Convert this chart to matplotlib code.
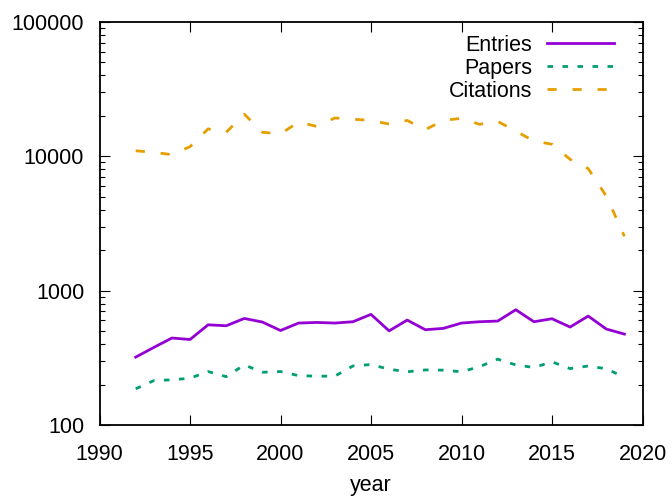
import numpy as np
import matplotlib
matplotlib.use('Agg')
import matplotlib.pyplot as plt
from matplotlib.ticker import LogLocator, FixedLocator, NullFormatter

plt.rcParams['font.family'] = ['Liberation Sans', 'DejaVu Sans']

# Datos
years = list(range(1992, 2020))
entries = [320, 378, 444, 433, 557, 548, 621, 584, 505, 574, 580, 574, 587, 666,
           502, 604, 512, 524, 574, 587, 594, 721, 587, 618, 536, 647, 518, 475]
papers = [186, 214, 217, 223, 250, 229, 280, 247, 250, 233, 231, 231, 275, 282,
          260, 249, 257, 256, 249, 272, 309, 280, 268, 295, 263, 275, 262, 227]
citations = [11000, 10700, 10300, 11800, 16000, 15100, 20600, 15100, 14700, 18000,
             16700, 19300, 18900, 18500, 17400, 18500, 15800, 18500, 19200, 17300,
             18200, 15400, 13000, 12300, 9500, 8100, 5060, 2540]

xticks = [1990, 1995, 2000, 2005, 2010, 2015, 2020]
yticks = [100, 1000, 10000, 100000]

FS = 15.5

fig = plt.figure(figsize=(6.72, 4.96), dpi=100)
ax = fig.add_axes([99.5/672, 71/496, 543/672, 403/496])

ax.plot(years, entries, color='#9400D3', lw=2, label='Entries')
ax.plot(years, papers, color='#009E73', lw=2, dashes=(2.0, 3.4), label='Papers')
ax.plot(years, citations, color='#E69F00', lw=2, dashes=(3.3, 5.7), label='Citations')

ax.set_yscale('log')
ax.set_xlim(1990, 2020)
ax.set_ylim(100, 100000)
ax.xaxis.set_major_locator(FixedLocator(xticks))
ax.yaxis.set_major_locator(FixedLocator(yticks))
ax.yaxis.set_minor_locator(LogLocator(base=10, subs=np.arange(2, 10)))
ax.yaxis.set_minor_formatter(NullFormatter())
ax.set_yticklabels([str(v) for v in yticks])
ax.set_xticklabels([str(v) for v in xticks])

ax.tick_params(which='both', direction='in', top=True, right=True, labelsize=FS)
ax.tick_params(axis='x', pad=14)
ax.tick_params(axis='y', pad=11)
ax.tick_params(which='major', length=7, width=0.8)
ax.tick_params(which='minor', length=3.6, width=0.8)
for s in ax.spines.values():
    s.set_linewidth(1.3)

ax.set_xlabel('year', fontsize=FS, labelpad=7)

leg = ax.legend(loc='upper right', bbox_to_anchor=(1 - 5/543, 1 + 11/403),
                frameon=False, markerfirst=False, fontsize=FS,
                handlelength=3.1, labelspacing=0.1, borderaxespad=0.9,
                borderpad=0.2, handletextpad=0.7)
leg._legend_box.align = 'right'

plt.savefig('out.png', dpi=100)
